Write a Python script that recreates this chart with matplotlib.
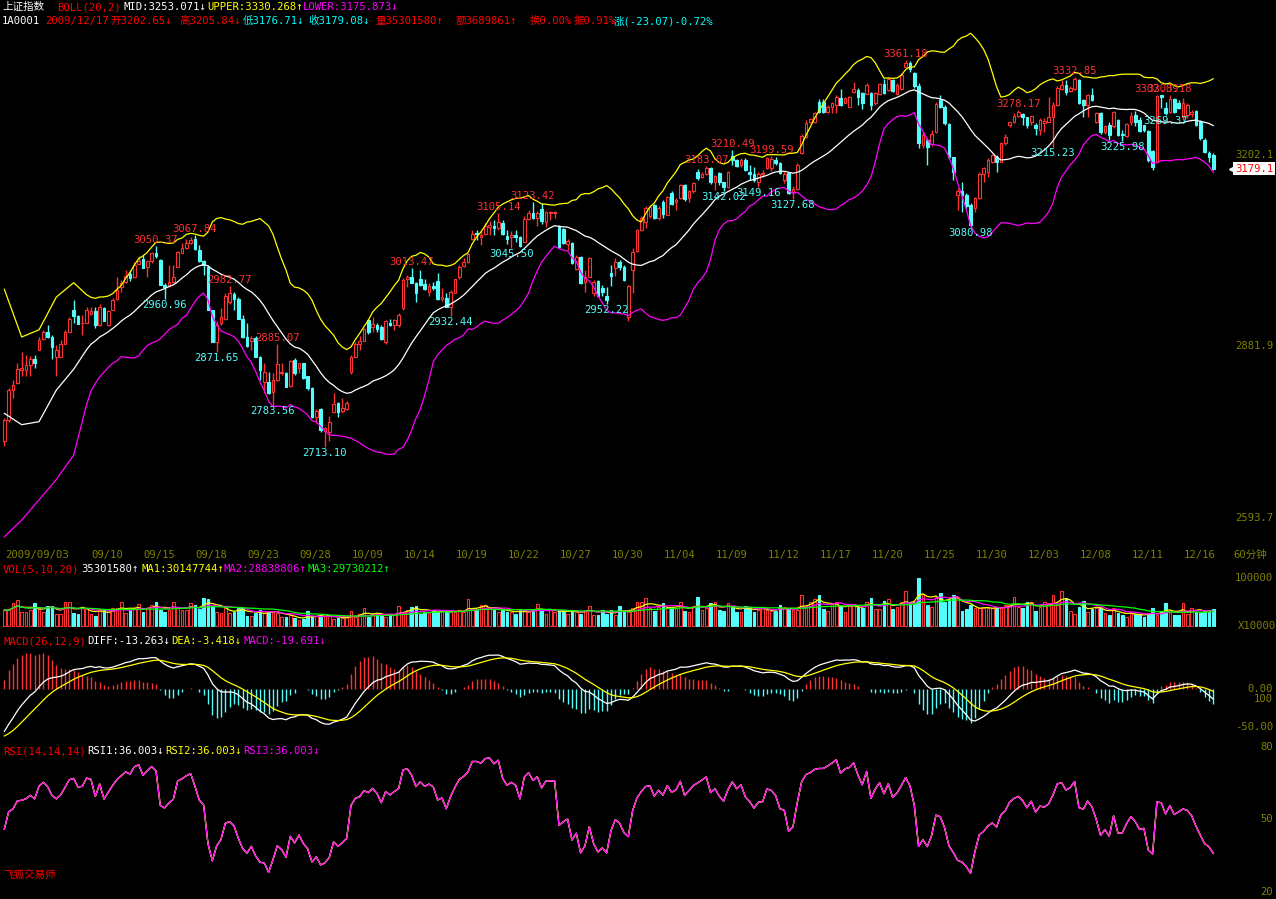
import numpy as np
import pandas as pd
import matplotlib
matplotlib.use("Agg")
import matplotlib.pyplot as plt
from matplotlib.transforms import blended_transform_factory as blend

plt.rcParams['font.family'] = ['DejaVu Sans Mono', 'Noto Sans CJK SC']

# 上证指数 60-minute bars, 2009/09/03 .. 2009/12/17 (280 bars, 4 per day)
opens = [
    2722, 2758, 2808, 2820, 2842, 2842, 2850, 2860, 2876, 2893,
    2905, 2897, 2864, 2864, 2886, 2906, 2942, 2932, 2920, 2921,
    2935, 2940, 2917, 2945, 2917, 2943, 2960, 2980, 2990, 3003,
    2997, 3019, 3027, 3015, 3024, 3038, 3026, 2985, 2983, 2990,
    3015, 3038, 3046, 3054, 3061, 3043, 3025, 3015, 2942, 2889,
    2921, 2927, 2955, 2969, 2960, 2928, 2897, 2890, 2896, 2864,
    2822, 2822, 2804, 2825, 2836, 2837, 2815, 2858, 2845, 2853,
    2831, 2811, 2763, 2776, 2740, 2738, 2771, 2786, 2773, 2776,
    2839, 2864, 2886, 2891, 2926, 2914, 2917, 2914, 2888, 2921,
    2917, 2917, 2945, 2994, 2998, 2988, 2994, 2986, 2973, 2983,
    2991, 2960, 2962, 2948, 2971, 2997, 3016, 3023, 3061, 3072,
    3065, 3070, 3081, 3083, 3079, 3088, 3066, 3065, 3068, 3065,
    3057, 3094, 3105, 3096, 3111, 3090, 3105, 3105, 3082, 3078,
    3053, 3055, 3011, 3031, 2990, 2998, 2970, 2991, 2979, 2966,
    3005, 3012, 3023, 3015, 2931, 3009, 3042, 3076, 3090, 3099,
    3118, 3097, 3124, 3102, 3138, 3124, 3130, 3152, 3130, 3141,
    3174, 3165, 3171, 3180, 3157, 3172, 3156, 3148, 3200, 3193,
    3185, 3194, 3174, 3171, 3157, 3170, 3180, 3180, 3194, 3189,
    3160, 3172, 3140, 3145, 3205, 3232, 3258, 3258, 3291, 3291,
    3275, 3283, 3286, 3297, 3290, 3283, 3308, 3311, 3306, 3305,
    3306, 3289, 3304, 3321, 3311, 3328, 3305, 3312, 3350, 3357,
    3339, 3317, 3219, 3227, 3220, 3240, 3294, 3283, 3254, 3198,
    3135, 3141, 3135, 3118, 3113, 3130, 3171, 3174, 3191, 3199,
    3191, 3222, 3252, 3257, 3268, 3270, 3265, 3258, 3252, 3244,
    3255, 3258, 3266, 3286, 3313, 3319, 3309, 3313, 3328, 3294,
    3286, 3303, 3257, 3272, 3241, 3252, 3251, 3261, 3238, 3234,
    3258, 3269, 3261, 3252, 3242, 3208, 3191, 3302, 3281, 3274,
    3296, 3289, 3266, 3269, 3270, 3276, 3258, 3227, 3205, 3202.65,
]
highs = [
    2761, 2811, 2825, 2853, 2872, 2867, 2865, 2867, 2897, 2908,
    2917, 2900, 2884, 2892, 2909, 2930, 2959, 2934, 2934, 2947,
    2948, 2947, 2952, 2947, 2942, 2962, 2998, 2993, 3009, 3009,
    3023, 3032, 3035, 3026, 3040, 3050.37, 3027, 2988, 3018, 3018,
    3041, 3054, 3062, 3065, 3067.84, 3051, 3026, 3018, 2943, 2923,
    2945, 2970, 2982.77, 2973, 2964, 2934, 2920, 2898, 2898, 2865,
    2853, 2839, 2836, 2885.07, 2853, 2839, 2858, 2861, 2854, 2854,
    2832, 2814, 2776, 2778, 2746, 2764, 2803, 2788, 2795, 2790,
    2867, 2888, 2898, 2912, 2927, 2931, 2921, 2917, 2926, 2928,
    2928, 2937, 2996, 3001, 3013.47, 2990, 3009, 2995, 2987, 2990,
    3005, 2979, 2970, 2975, 2995, 3018, 3029, 3038, 3076, 3076,
    3074, 3088, 3092, 3093, 3105.14, 3093, 3076, 3074, 3076, 3066,
    3099, 3110, 3123.42, 3109, 3121, 3109, 3108, 3108, 3085, 3079,
    3061, 3057, 3035, 3032, 3009, 3031, 2993, 2993, 2984, 2981,
    3018, 3029, 3026, 3018, 2984, 3046, 3078, 3099, 3116, 3118,
    3120, 3116, 3127, 3134, 3141, 3130, 3154, 3154, 3144, 3157,
    3178, 3174, 3183.07, 3182, 3169, 3174, 3157, 3176, 3210.49, 3195,
    3197, 3197, 3185, 3182, 3174, 3177, 3199, 3199.59, 3198, 3191,
    3176, 3174, 3150, 3188, 3238, 3260, 3264, 3275, 3296, 3296,
    3286, 3291, 3303, 3312, 3300, 3301, 3325, 3314, 3308, 3322,
    3308, 3308, 3323, 3329, 3331, 3329, 3322, 3339, 3361.18, 3360,
    3341, 3323, 3241, 3231, 3244, 3291, 3303, 3286, 3256, 3199,
    3147, 3157, 3138, 3122, 3132, 3174, 3182, 3197, 3204, 3202,
    3224, 3238, 3258, 3272, 3278.17, 3272, 3266, 3268, 3255, 3264,
    3264, 3300, 3291, 3317, 3328, 3328, 3317, 3332.85, 3330, 3296,
    3305, 3315, 3275, 3274, 3252, 3258, 3276, 3262, 3244, 3255,
    3274, 3276, 3265, 3253, 3244, 3210, 3302.09, 3300, 3291, 3303.18,
    3298, 3294, 3297, 3289, 3278, 3278, 3261, 3230, 3208, 3205.84,
]
lows = [
    2714, 2755, 2794, 2818, 2831, 2831, 2832, 2845, 2875, 2892,
    2895, 2860, 2832, 2863, 2885, 2905, 2920, 2918, 2900, 2920,
    2934, 2912, 2916, 2923, 2916, 2942, 2959, 2973, 2987, 2991,
    2996, 3018, 3012, 2998, 3021, 3030, 2984, 2960.96, 2981, 2988,
    3014, 3037, 3044, 3053, 3043, 3023, 3001, 2942, 2889, 2871.65,
    2917, 2925, 2953, 2942, 2928, 2895, 2881, 2876, 2863, 2825,
    2803, 2801, 2783.56, 2824, 2833, 2813, 2813, 2833, 2836, 2827,
    2808, 2762, 2753, 2738, 2713.10, 2722, 2770, 2763, 2769, 2774,
    2835, 2863, 2875, 2890, 2902, 2906, 2906, 2892, 2886, 2915,
    2909, 2914, 2943, 2980, 2987, 2955, 2983, 2976, 2966, 2976,
    2959, 2958, 2947, 2932.44, 2970, 2995, 3014, 3021, 3059, 3060,
    3051, 3068, 3068, 3068, 3077, 3068, 3053, 3045.50, 3057, 3048,
    3056, 3093, 3094, 3083, 3087, 3082, 3093, 3096, 3047, 3053,
    3043, 3019, 3009, 2986, 2973, 2997, 2965, 2964, 2965, 2952.22,
    2982, 3000, 3009, 2991, 2923, 2970, 3040, 3074, 3080, 3096,
    3095, 3093, 3096, 3101, 3118, 3110, 3128, 3125, 3124, 3139,
    3161, 3163, 3168, 3154, 3144, 3151, 3142.02, 3146, 3185, 3182,
    3182, 3176, 3161, 3157, 3149.16, 3165, 3178, 3176, 3185, 3170,
    3155, 3137, 3127.68, 3143, 3203, 3230, 3255, 3256, 3273, 3272,
    3273, 3273, 3273, 3284, 3289, 3282, 3306, 3286, 3279, 3304,
    3277, 3286, 3302, 3305, 3310, 3308, 3302, 3311, 3349, 3342,
    3314, 3214, 3213, 3185, 3217, 3239, 3281, 3252, 3196, 3160,
    3110, 3107, 3113, 3080.98, 3107, 3128, 3157, 3166, 3188, 3173,
    3190, 3219, 3249, 3255, 3266, 3252, 3247, 3252, 3236, 3236,
    3241, 3257, 3215.23, 3285, 3311, 3303, 3307, 3311, 3287, 3265,
    3266, 3292, 3255, 3238, 3238, 3227, 3248, 3234, 3225.98, 3233,
    3252, 3250, 3240, 3241, 3191, 3177, 3190, 3281, 3269.37, 3272,
    3272, 3280, 3261, 3264, 3266, 3251, 3227, 3205, 3191, 3176.71,
]
closes = [
    2758, 2808, 2817, 2843, 2845, 2850, 2860, 2853, 2892, 2905,
    2897, 2881, 2875, 2885, 2905, 2928, 2932, 2919, 2921, 2943,
    2941, 2917, 2948, 2924, 2941, 2959, 2976, 2987, 2999, 2996,
    3018, 3025, 3012, 3024, 3037, 3032, 2984, 2980, 2990, 2997,
    3040, 3046, 3054, 3060, 3044, 3025, 3018, 2942, 2889, 2917,
    2930, 2966, 2970, 2960, 2928, 2897, 2882, 2895, 2864, 2842,
    2839, 2803, 2825, 2851, 2839, 2814, 2856, 2836, 2853, 2828,
    2811, 2763, 2773, 2741, 2745, 2755, 2785, 2771, 2778, 2786,
    2864, 2886, 2891, 2910, 2906, 2919, 2910, 2893, 2923, 2917,
    2926, 2934, 2993, 2998, 2988, 2970, 2984, 2977, 2983, 2979,
    2960, 2964, 2948, 2973, 2994, 3015, 3023, 3036, 3070, 3070,
    3068, 3083, 3085, 3079, 3089, 3070, 3062, 3068, 3065, 3050,
    3094, 3105, 3096, 3105, 3092, 3107, 3107, 3107, 3048, 3054,
    3058, 3021, 3031, 2987, 2998, 3030, 2990, 2966, 2973, 2959,
    2999, 3023, 3015, 2993, 2983, 3040, 3076, 3096, 3113, 3115,
    3096, 3113, 3104, 3132, 3120, 3127, 3152, 3128, 3141, 3155,
    3163, 3171, 3180, 3157, 3167, 3156, 3148, 3174, 3194, 3184,
    3194, 3177, 3170, 3160, 3171, 3172, 3197, 3195, 3189, 3172,
    3170, 3139, 3145, 3185, 3234, 3256, 3262, 3272, 3275, 3275,
    3282, 3290, 3300, 3286, 3297, 3300, 3312, 3300, 3290, 3319,
    3286, 3306, 3321, 3306, 3329, 3310, 3319, 3336, 3357, 3346,
    3317, 3222, 3236, 3215, 3238, 3287, 3283, 3255, 3199, 3174,
    3142, 3135, 3116, 3085, 3130, 3171, 3180, 3194, 3202, 3191,
    3222, 3233, 3257, 3268, 3274, 3266, 3252, 3268, 3247, 3261,
    3259, 3266, 3286, 3315, 3319, 3308, 3314, 3329, 3289, 3286,
    3303, 3294, 3272, 3240, 3250, 3236, 3274, 3236, 3236, 3254,
    3268, 3258, 3242, 3244, 3194, 3182, 3301, 3299, 3272, 3296,
    3274, 3281, 3289, 3286, 3275, 3252, 3230, 3207, 3198, 3179.08,
]
# volume, millions of shares
volumes = [
    33, 33, 47, 54, 30, 30, 33, 47, 37, 30,
    42, 42, 26, 26, 50, 50, 28, 26, 40, 37,
    26, 21, 33, 33, 30, 37, 37, 50, 28, 33,
    37, 46, 30, 37, 44, 50, 33, 30, 33, 50,
    37, 33, 33, 47, 44, 35, 58, 56, 42, 30,
    28, 37, 28, 30, 40, 37, 21, 21, 28, 33,
    28, 30, 30, 28, 18, 18, 23, 16, 12.5, 14,
    31, 21, 21, 23, 21, 21, 14, 16, 16, 18,
    32, 18, 26, 37, 19, 25, 26, 23, 19, 23,
    25, 42, 30, 33, 40, 42, 25, 30, 28, 33,
    30, 32, 30, 30, 30, 33, 30, 56, 33, 33,
    44, 44, 37, 33, 30, 33, 30, 30, 26, 33,
    31, 30, 35, 46, 33, 25, 33, 30, 33, 30,
    26, 33, 30, 25, 33, 42, 23, 23, 33, 25,
    33, 23, 42, 33, 30, 37, 51, 49, 58, 37,
    32, 40, 47, 37, 37, 37, 49, 32, 30, 42,
    60, 33, 37, 47, 49, 33, 32, 47, 40, 30,
    30, 42, 40, 30, 33, 37, 33, 31, 32, 44,
    40, 35, 33, 33, 65, 42, 51, 56, 65, 35,
    32, 46, 51, 42, 30, 42, 46, 40, 37, 51,
    58, 35, 35, 52, 56, 35, 40, 49, 72, 47,
    49, 101, 67, 44, 40, 61, 69, 51, 56, 65,
    58, 32, 35, 44, 37, 37, 37, 37, 37, 40,
    37, 44, 44, 61, 40, 37, 51, 51, 32, 40,
    49, 47, 65, 44, 72, 58, 32, 26, 40, 53,
    30, 35, 37, 37, 28, 23, 37, 28, 23, 19,
    28, 26, 23, 19, 26, 37, 23, 30, 47, 30,
    23, 23, 47, 26, 37, 30, 30, 30, 30, 35.3,
]

# BOLL(20,2) as shown over the first bars (window still holds pre-chart data)
boll_warm_bars = [0, 4, 8, 12, 16]
boll_warm_upper = [2977, 2897, 2909, 2964, 2988]
boll_warm_mid = [2769, 2750, 2755, 2808, 2843]
boll_warm_lower = [2562, 2590, 2624, 2658, 2699]

# indicator state carried in from before the first bar
macd_diff0, macd_dea0, macd_ema26_0 = -55.0, -61.0, 2800.0
rsi_gain0, rsi_move0 = 11.5, 25.0

# marked highs / lows (bar index, text)
high_marks = [(35, "3050.37"), (44, "3067.84"), (52, "2982.77"), (63, "2885.07"),
              (94, "3013.47"), (114, "3105.14"), (122, "3123.42"), (162, "3183.07"),
              (168, "3210.49"), (177, "3199.59"), (208, "3361.18"), (234, "3278.17"),
              (247, "3332.85"), (266, "3302.09"), (269, "3303.18")]
low_marks = [(37, "2960.96"), (49, "2871.65"), (62, "2783.56"), (74, "2713.10"),
             (103, "2932.44"), (117, "3045.50"), (139, "2952.22"), (166, "3142.02"),
             (174, "3149.16"), (182, "3127.68"), (223, "3080.98"), (242, "3215.23"),
             (258, "3225.98"), (268, "3269.37")]

date_bars = [0, 20, 32, 44, 56, 68, 80, 92, 104, 116, 128, 140,
             152, 164, 176, 188, 200, 212, 224, 236, 248, 260, 272]
date_labels = ["2009/09/03", "09/10", "09/15", "09/18", "09/23", "09/28", "10/09",
               "10/14", "10/19", "10/22", "10/27", "10/30", "11/04", "11/09", "11/12",
               "11/17", "11/20", "11/25", "11/30", "12/03", "12/08", "12/11", "12/16"]
price_ticks = [3202.1, 2881.9, 2593.7]

# ---------------------------------------------------------------- indicators
o = np.array(opens, float); h = np.array(highs, float)
l = np.array(lows, float); c = np.array(closes, float)
v = np.array(volumes, float)
n = len(c)
x = np.arange(n)

cs = pd.Series(c)
mid_c = cs.rolling(20).mean()
std_c = cs.rolling(20).std(ddof=0)
bx = np.r_[boll_warm_bars, x[19:]]
b_mid = np.r_[boll_warm_mid, mid_c[19:]]
b_up = np.r_[boll_warm_upper, (mid_c + 2 * std_c)[19:]]
b_lo = np.r_[boll_warm_lower, (mid_c - 2 * std_c)[19:]]

diff = np.empty(n); dea = np.empty(n)
e26 = macd_ema26_0; e12 = e26 + macd_diff0
diff[0], dea[0] = macd_diff0, macd_dea0
for i in range(1, n):
    e12 += (c[i] - e12) * 2 / 13
    e26 += (c[i] - e26) * 2 / 27
    diff[i] = e12 - e26
    dea[i] = dea[i - 1] + (diff[i] - dea[i - 1]) * 2 / 10
macd = 2 * (diff - dea)

rsi = np.empty(n)
g, m = rsi_gain0, rsi_move0
rsi[0] = 100 * g / m
for i in range(1, n):
    d = c[i] - c[i - 1]
    g += (max(d, 0) - g) / 14
    m += (abs(d) - m) / 14
    rsi[i] = 100 * g / m

vs = pd.Series(v)
vol_ma = [vs.rolling(w, min_periods=1).mean() for w in (5, 10, 20)]

# ---------------------------------------------------------------- drawing
W, H = 1276, 899
BAR_PX = 4.333
PLOT_W = 1218
RED = '#ff3232'
CYAN = '#54fcfc'
YEL = '#ffff00'
MAG = '#ff00ff'
GRN = '#00ff00'
OLIVE = '#808000'
FS = 7.6

fig = plt.figure(figsize=(W / 100, H / 100), dpi=100, facecolor='black')


def panel(top, bottom, ref1, ref2):
    ax = fig.add_axes([0, 1 - bottom / H, PLOT_W / W, (bottom - top) / H])
    ax.set_facecolor('black')
    ax.set_axis_off()
    ax.set_xlim(-1, PLOT_W / BAR_PX - 1)
    (v1, p1), (v2, p2) = ref1, ref2
    k = (v1 - v2) / (p1 - p2)
    ax.set_ylim(v1 + (bottom - p1) * k, v1 + (top - p1) * k)
    return ax


ov = fig.add_axes([0, 0, 1, 1], zorder=10)
ov.set_xlim(0, W); ov.set_ylim(H, 0); ov.set_axis_off(); ov.patch.set_alpha(0)

ax_p = panel(30, 545, (3202.1, 155), (2881.9, 346))
ax_v = panel(563, 627, (0, 626), (100, 578))
ax_m = panel(646, 746, (0, 689), (-50, 727.5))
ax_r = panel(749, 899, (80, 747), (20, 892))

up = c >= o
col = np.where(up, RED, CYAN)
face = np.where(up, 'black', CYAN)

# candles
ax_p.vlines(x, l, h, colors=col, lw=1, zorder=2)
ax_p.bar(x, np.abs(c - o), bottom=np.minimum(o, c), width=0.62, color=face,
         edgecolor=col, linewidth=0.8, zorder=3)
ax_p.plot(bx, b_up, color=YEL, lw=0.9, zorder=4)
ax_p.plot(bx, b_mid, color='white', lw=0.9, zorder=4)
ax_p.plot(bx, b_lo, color=MAG, lw=0.9, zorder=4)

for k, t in high_marks:
    ax_p.annotate(t, (k, h[k]), xytext=(0, 1), textcoords='offset pixels',
                  ha='center', va='bottom', color=RED, fontsize=FS, zorder=6)
for k, t in low_marks:
    ax_p.annotate(t, (k, l[k]), xytext=(0, -1), textcoords='offset pixels',
                  ha='center', va='top', color=CYAN, fontsize=FS, zorder=6)

# right-hand scales
tr_p = blend(ov.transData, ax_p.transData)
for t in price_ticks:
    ax_p.text(1273, t, f"{t:.1f}", transform=tr_p, ha='right', va='center',
              color=OLIVE, fontsize=FS, clip_on=False)
ax_p.text(1273, c[-1], f"{c[-1]:.1f}", transform=tr_p, ha='right', va='center',
          color='red', fontsize=FS, clip_on=False,
          bbox=dict(boxstyle='square,pad=0.15', fc='white', ec='none'))
ax_p.plot([1232], [c[-1]], marker='<', ms=5, color='white', transform=tr_p,
          clip_on=False)

# date row
tr_d = blend(ax_p.transData, ov.transData)
for k, t in zip(date_bars, date_labels):
    ov.text(k + 0.2, 555, t, transform=tr_d, ha='left', va='center',
            color=OLIVE, fontsize=FS)
ov.text(1233, 555, "60分钟", ha='left', va='center', color=OLIVE, fontsize=FS)

# volume
ax_v.bar(x, v, width=0.62, color=face, edgecolor=col, linewidth=0.8, zorder=2)
for s, cc in zip(vol_ma, (YEL, MAG, GRN)):
    ax_v.plot(x, s, color=cc, lw=0.9, zorder=3)
tr_v = blend(ov.transData, ax_v.transData)
ax_v.text(1273, 100, "100000", transform=tr_v, ha='right', va='center',
          color=OLIVE, fontsize=FS, clip_on=False)
ax_v.text(1238, 0, "X10000", transform=tr_v, ha='left', va='center',
          color=OLIVE, fontsize=FS, clip_on=False)

# MACD
ax_m.vlines(x, 0, macd, colors=np.where(macd >= 0, RED, CYAN), lw=1, zorder=2)
ax_m.plot(x, diff, color='white', lw=0.9, zorder=3)
ax_m.plot(x, dea, color=YEL, lw=0.9, zorder=3)
tr_m = blend(ov.transData, ax_m.transData)
for t, s in ((0, "0.00"), (-50, "-50.00")):
    ax_m.text(1273, t, s, transform=tr_m, ha='right', va='center',
              color=OLIVE, fontsize=FS, clip_on=False)

# RSI
for cc in ('white', YEL, MAG):
    ax_r.plot(x, rsi, color=cc, lw=0.9)
tr_r = blend(ov.transData, ax_r.transData)
for t in (100, 80, 50, 20):
    ax_r.text(1273, t, str(t), transform=tr_r, ha='right', va='center',
              color=OLIVE, fontsize=FS, clip_on=False)

# header lines
rows = [
    (7, [("上证指数", 'white', 2), ("BOLL(20,2)", 'red', 57), ("MID:3253.071↓", 'white', 123),
         ("UPPER:3330.268↑", YEL, 207), ("LOWER:3175.873↓", MAG, 303)]),
    (21, [("1A0001", 'white', 2), ("2009/12/17", 'red', 45), ("开3202.65↓", 'red', 110),
          ("高3205.84↓", 'red', 179), ("低3176.71↓", '#00ffff', 243),
          ("收3179.08↓", '#00ffff', 308), ("量35301580↑", 'red', 375),
          ("额3689861↑", 'red', 456), ("换0.00%", 'red', 530), ("振0.91%", 'red', 574),
          ("涨(-23.07)-0.72%", '#00ffff', 614)]),
    (569, [("VOL(5,10,20)", 'red', 3), ("35301580↑", 'white', 81),
           ("MA1:30147744↑", YEL, 141), ("MA2:28838806↑", MAG, 224),
           ("MA3:29730212↑", GRN, 308)]),
    (641, [("MACD(26,12,9)", 'red', 3), ("DIFF:-13.263↓", 'white', 87),
           ("DEA:-3.418↓", YEL, 171), ("MACD:-19.691↓", MAG, 243)]),
    (751, [("RSI(14,14,14)", 'red', 3), ("RSI1:36.003↓", 'white', 87),
           ("RSI2:36.003↓", YEL, 165), ("RSI3:36.003↓", MAG, 243)]),
    (875, [("飞狐交易师", 'red', 3)]),
]
for y, segs in rows:
    for t, cc, x0 in segs:
        ov.text(x0, y, t, ha='left', va='center', color=cc, fontsize=FS)

fig.savefig('out.png', dpi=100, facecolor='black')
